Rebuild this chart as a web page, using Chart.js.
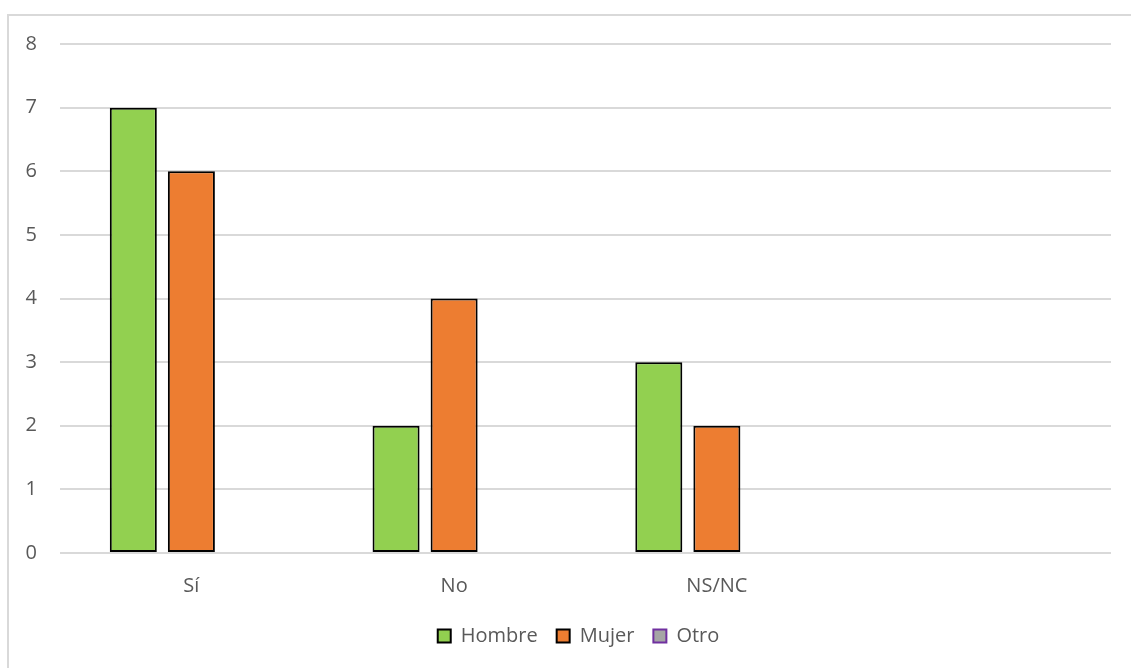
<!DOCTYPE html>
<html>
<head>
<meta charset="utf-8">
<script src="https://cdn.jsdelivr.net/npm/chart.js@4.4.1/dist/chart.umd.min.js"></script>
<style>
  html, body { margin: 0; padding: 0; background: #fff; overflow: hidden; }
  #wrap { position: relative; width: 1131px; height: 668px; }
  #frame { position: absolute; left: 7px; top: 14px; width: 1200px; height: 720px;
           border: 2px solid #d9d9d9; box-sizing: border-box; pointer-events: none; }
  canvas { position: absolute; left: 0; top: 0; }
</style>
</head>
<body>
<div id="wrap">
  <div id="frame"></div>
  <canvas id="c" width="1131" height="668"></canvas>
</div>
<script>
// Survey answers by gender
const categories = ['Sí', 'No', 'NS/NC', ''];
const hombre = [7, 2, 3, null];
const mujer  = [6, 4, 2, null];
const otro   = [0, 0, 0, 0];
const yTicks = [0, 1, 2, 3, 4, 5, 6, 7, 8];

const FONT = '"Open Sans", "DejaVu Sans", sans-serif';
const TEXT = '#595959';

// Nudge the legend so it sits centred under the whole frame
const legendShift = {
  id: 'legendShift',
  afterLayout(chart) {
    const lg = chart.legend;
    if (lg) { lg.left += 23; lg.right += 23; }
  }
};

new Chart(document.getElementById('c'), {
  type: 'bar',
  data: {
    labels: categories,
    datasets: [
      { label: 'Hombre', data: hombre, backgroundColor: '#92D050', borderColor: '#000000', borderWidth: 2, borderSkipped: false },
      { label: 'Mujer',  data: mujer,  backgroundColor: '#ED7D31', borderColor: '#000000', borderWidth: 2, borderSkipped: false },
      { label: 'Otro',   data: otro,   backgroundColor: '#A5A5A5', borderColor: '#7030A0', borderWidth: 2, borderSkipped: false }
    ]
  },
  options: {
    responsive: false,
    animation: false,
    devicePixelRatio: 1,
    categoryPercentage: 0.663,
    barPercentage: 0.81,
    layout: { padding: { top: 44, left: 0, right: 20, bottom: 12 } },
    scales: {
      x: {
        grid: { display: false, drawTicks: false },
        border: { display: false },
        ticks: { color: TEXT, font: { family: FONT, size: 20 }, padding: 21, maxRotation: 0 },
        afterFit: s => { s.height = 54; }
      },
      y: {
        min: 0,
        max: 8,
        afterBuildTicks: s => { s.ticks = yTicks.map(v => ({ value: v })); },
        grid: { color: '#d9d9d9', lineWidth: 2, drawTicks: false },
        border: { display: false },
        ticks: { color: TEXT, font: { family: FONT, size: 20 }, padding: 23 },
        afterFit: s => { s.width = 60; }
      }
    },
    plugins: {
      legend: {
        position: 'bottom',
        labels: {
          color: TEXT,
          font: { family: FONT, size: 20 },
          boxWidth: 13,
          boxHeight: 13,
          padding: 19
        }
      },
      tooltip: { enabled: false }
    }
  },
  plugins: [legendShift]
});
</script>
</body>
</html>
